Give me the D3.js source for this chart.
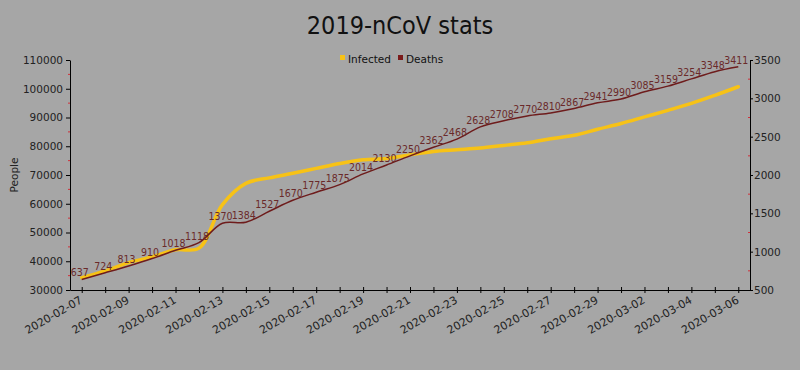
<!DOCTYPE html>
<html>
<head>
<meta charset="utf-8">
<script src="https://cdn.jsdelivr.net/npm/d3@7"></script>
<style>
  body { margin: 0; background: #a6a6a6; }
  svg { display: block; }
  text { font-family: "DejaVu Sans", sans-serif; }
</style>
</head>
<body>
<div id="chart"></div>
<script>
// data
const dates = [
  "2020-02-07", "2020-02-08", "2020-02-09", "2020-02-10", "2020-02-11", "2020-02-12",
  "2020-02-13", "2020-02-14", "2020-02-15", "2020-02-16", "2020-02-17", "2020-02-18",
  "2020-02-19", "2020-02-20", "2020-02-21", "2020-02-22", "2020-02-23", "2020-02-24",
  "2020-02-25", "2020-02-26", "2020-02-27", "2020-02-28", "2020-02-29", "2020-03-01",
  "2020-03-02", "2020-03-03", "2020-03-04", "2020-03-05", "2020-03-06"
];
const infected = [
  34300, 36640, 39540, 41530, 43970, 44560,
  59700, 67100, 69000, 70600, 72300, 74000,
  75300, 75700, 77000, 78200, 78800, 79400,
  80300, 81200, 82600, 83800, 85900, 87900,
  90200, 92500, 94900, 97700, 100700
];
const deaths = [
  637, 724, 813, 910, 1018, 1118,
  1370, 1384, 1527, 1670, 1775, 1875,
  2014, 2130, 2250, 2362, 2468, 2628,
  2708, 2770, 2810, 2867, 2941, 2990,
  3085, 3159, 3254, 3348, 3411
];
const leftTicks = [30000, 40000, 50000, 60000, 70000, 80000, 90000, 100000, 110000];
const rightTicks = [500, 1000, 1500, 2000, 2500, 3000, 3500];

const svgWidth = 800;
const svgHeight = 370;
const margin = { top: 60, right: 50, bottom: 80, left: 70 };
const width = svgWidth - margin.left - margin.right;
const height = svgHeight - margin.top - margin.bottom;

const yellow = "#f7c216";
const darkRed = "#6e1c1c";

const svg = d3.select("#chart")
  .append("svg")
  .attr("width", svgWidth)
  .attr("height", svgHeight);

svg.append("rect")
  .attr("width", svgWidth)
  .attr("height", svgHeight)
  .attr("fill", "#a6a6a6");

// title
svg.append("text")
  .attr("x", svgWidth / 2)
  .attr("y", 34)
  .attr("text-anchor", "middle")
  .style("font-family", "'DejaVu Sans Condensed', 'DejaVu Sans', sans-serif")
  .style("font-stretch", "condensed")
  .style("font-size", "25px")
  .attr("fill", "#111")
  .text("2019-nCoV stats");

const chartGroup = svg.append("g")
  .attr("transform", `translate(${margin.left}, ${margin.top})`);

// scales
const x = d3.scalePoint()
  .domain(dates)
  .range([0, width])
  .padding(0.5);

const yLeft = d3.scaleLinear()
  .domain([30000, 110000])
  .range([height, 0]);

const yRight = d3.scaleLinear()
  .domain([500, 3500])
  .range([height, 0]);

// minor red ticks between the major ones
const leftMinor = leftTicks.slice(0, -1).map(d => d + 5000);
const rightMinor = rightTicks.slice(0, -1).map(d => d + 250);

chartGroup.selectAll(".lminor")
  .data(leftMinor)
  .enter()
  .append("line")
  .attr("x1", -2).attr("x2", 0)
  .attr("y1", d => yLeft(d)).attr("y2", d => yLeft(d))
  .attr("stroke", "#d0303a");

chartGroup.selectAll(".rminor")
  .data(rightMinor)
  .enter()
  .append("line")
  .attr("x1", width - 2).attr("x2", width)
  .attr("y1", d => yRight(d)).attr("y2", d => yRight(d))
  .attr("stroke", "#d0303a");

// axes
const leftAxis = d3.axisLeft(yLeft).tickValues(leftTicks).tickFormat(d3.format("d"))
  .tickSize(4).tickPadding(3).tickSizeOuter(0);
const rightAxis = d3.axisRight(yRight).tickValues(rightTicks).tickFormat(d3.format("d"))
  .tickSize(3).tickPadding(1).tickSizeOuter(0);
const bottomAxis = d3.axisBottom(x)
  .tickSize(3)
  .tickSizeOuter(0)
  .tickFormat((d, i) => i % 2 === 0 ? d : "");

const gl = chartGroup.append("g").call(leftAxis);
const gr = chartGroup.append("g").attr("transform", `translate(${width}, 0)`).call(rightAxis);
const gx = chartGroup.append("g").attr("transform", `translate(0, ${height})`).call(bottomAxis);

[gl, gr, gx].forEach(g => {
  g.select(".domain").attr("stroke", "#000");
  g.selectAll(".tick line").attr("stroke", "#000");
  g.selectAll("text")
    .attr("fill", "#222")
    .style("font-family", "'DejaVu Sans', sans-serif")
    .style("font-size", "10.5px");
});

gx.selectAll(".tick line").attr("y1", -3);
gx.selectAll(".tick text")
  .attr("text-anchor", "end")
  .attr("dy", "0.35em")
  .attr("transform", "translate(-1, 9) rotate(-30)")
  .attr("y", 0)
  .attr("x", 0)
  .style("font-size", "11px");

// y axis title
chartGroup.append("text")
  .attr("transform", "rotate(-90)")
  .attr("x", -(yLeft(70000)))
  .attr("y", -52)
  .attr("text-anchor", "middle")
  .attr("fill", "#222")
  .style("font-size", "10.5px")
  .text("People");

// lines
const infectedLine = d3.line()
  .x((d, i) => x(dates[i]))
  .y(d => yLeft(d))
  .curve(d3.curveCatmullRom.alpha(0.5));

const deathsLine = d3.line()
  .x((d, i) => x(dates[i]))
  .y(d => yRight(d))
  .curve(d3.curveCatmullRom.alpha(0.5));

chartGroup.append("path")
  .datum(infected)
  .attr("d", infectedLine)
  .attr("fill", "none")
  .attr("stroke", yellow)
  .attr("stroke-width", 3.5)
  .attr("stroke-linecap", "round");

chartGroup.append("path")
  .datum(deaths)
  .attr("d", deathsLine)
  .attr("fill", "none")
  .attr("stroke", darkRed)
  .attr("stroke-width", 1.5);

// death labels
chartGroup.selectAll(".deathLabel")
  .data(deaths)
  .enter()
  .append("text")
  .attr("class", "deathLabel")
  .attr("x", (d, i) => x(dates[i]) - 2)
  .attr("y", d => yRight(d) - 3)
  .attr("text-anchor", "middle")
  .attr("fill", "#6a2a2a")
  .style("font-family", "'DejaVu Sans Condensed', 'DejaVu Sans', sans-serif")
  .style("font-stretch", "condensed")
  .style("font-size", "10.5px")
  .text(d => d);

// legend
const legend = svg.append("g").attr("transform", "translate(340, 55)");
const legendItems = [
  { name: "Infected", color: yellow, dx: 0 },
  { name: "Deaths", color: "#7a1a1a", dx: 58 }
];
legendItems.forEach(item => {
  legend.append("rect")
    .attr("x", item.dx).attr("y", 0)
    .attr("width", 5).attr("height", 5)
    .attr("fill", item.color);
  legend.append("text")
    .attr("x", item.dx + 8)
    .attr("y", 8)
    .attr("fill", "#111")
    .style("font-size", "10.5px")
    .text(item.name);
});
</script>
</body>
</html>
